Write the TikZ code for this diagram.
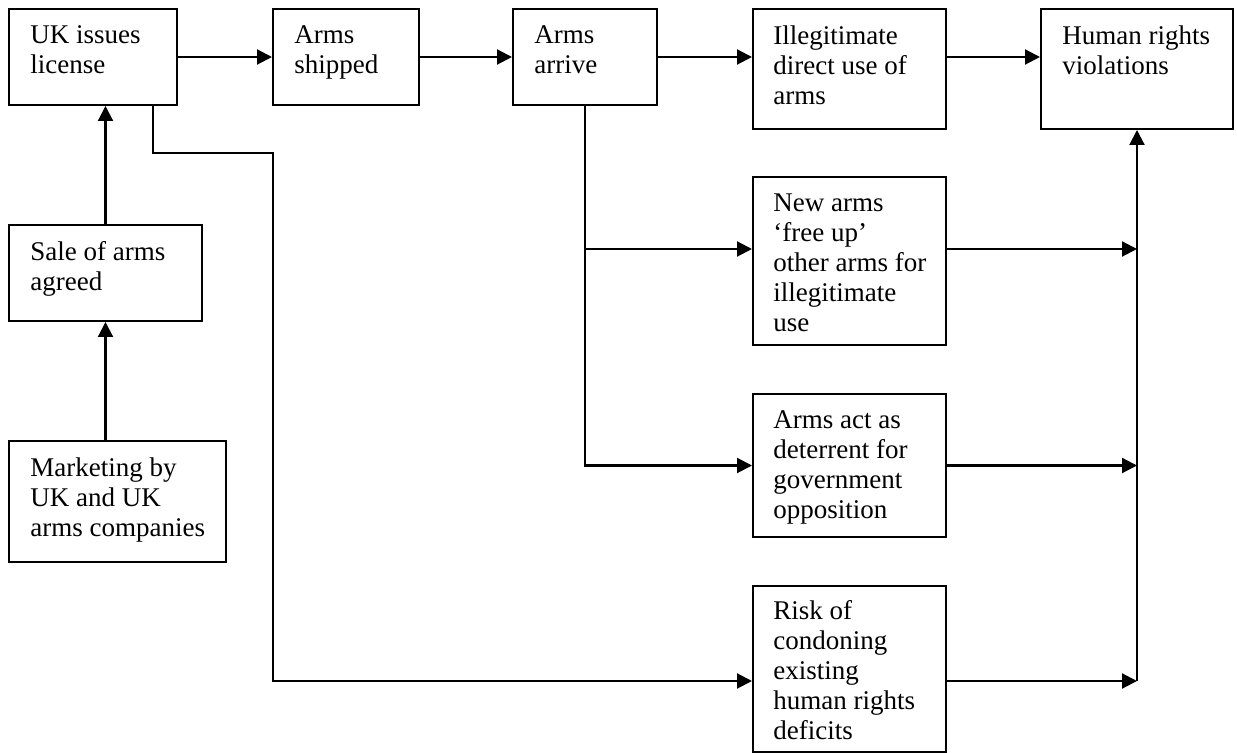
\documentclass[tikz,border=0pt]{standalone}
\usepackage{fontspec}
\setmainfont{Liberation Serif}
\usetikzlibrary{arrows.meta}
\begin{document}
\begin{tikzpicture}[x=0.5pt,y=-0.5pt,
  box/.style={draw, line width=1pt, inner sep=0pt},
  txt/.style={anchor=north west, inner sep=0pt, align=left, font=\fontsize{13.5pt}{15pt}\selectfont},
  arr/.style={line width=1.05pt, -{Triangle[length=7.5pt,width=7.5pt]}},
  ln/.style={line width=1.05pt}]
\useasboundingbox (0,0) rectangle (1237,753);
\fill[white] (0,0) rectangle (1237,753);
% boxes
\node[box, minimum width=84pt, minimum height=48pt] (uk) at (93,57) {};
\node[box, minimum width=73pt, minimum height=48pt] (shipped) at (346,57) {};
\node[box, minimum width=72pt, minimum height=48pt] (arrive) at (585,57) {};
\node[box, minimum width=96.5pt, minimum height=60pt] (illeg) at (849.5,69) {};
\node[box, minimum width=96pt, minimum height=60pt] (human) at (1137,69) {};
\node[box, minimum width=96.5pt, minimum height=48pt] (sale) at (105.5,273) {};
\node[box, minimum width=108.5pt, minimum height=60.5pt] (mkt) at (117.5,501.5) {};
\node[box, minimum width=96.5pt, minimum height=84pt] (newarms) at (849.5,261) {};
\node[box, minimum width=96.5pt, minimum height=71.5pt] (act) at (849.5,465.5) {};
\node[box, minimum width=96.5pt, minimum height=83pt] (risk) at (849.5,669) {};
% texts
\node[txt] (tuk) at ([xshift=11pt,yshift=-8.5pt]uk.north west) {UK issues\\license};
\node[txt] (tshipped) at ([xshift=11pt,yshift=-8.5pt]shipped.north west) {Arms\\shipped};
\node[txt] (tarrive) at ([xshift=11pt,yshift=-8.5pt]arrive.north west) {Arms\\arrive};
\node[txt] (tilleg) at ([xshift=10.5pt,yshift=-8.5pt]illeg.north west) {Illegitimate\\direct use of\\arms};
\node[txt] (thuman) at ([xshift=11pt,yshift=-8.5pt]human.north west) {Human rights\\violations};
\node[txt] (tsale) at ([xshift=11pt,yshift=-8.5pt]sale.north west) {Sale of arms\\agreed};
\node[txt] (tmkt) at ([xshift=11pt,yshift=-8.5pt]mkt.north west) {Marketing by\\UK and UK\\arms companies};
\node[txt] (tnewarms) at ([xshift=10.5pt,yshift=-8.5pt]newarms.north west) {New arms\\‘free up’\\other arms for\\illegitimate\\use};
\node[txt] (tact) at ([xshift=10.5pt,yshift=-8.5pt]act.north west) {Arms act as\\deterrent for\\government\\opposition};
\node[txt] (trisk) at ([xshift=10.5pt,yshift=-7.5pt]risk.north west) {Risk of\\condoning\\existing\\human rights\\deficits};
% helper coordinates
\coordinate (j1) at (153,153);
\coordinate (j2) at (273,153);
\coordinate (yn) at (0,249);
\coordinate (yr) at (0,681);
% connectors
\draw[arr] (uk.east) -- (shipped.west);
\draw[arr] (shipped.east) -- (arrive.west);
\draw[arr] (arrive.east) -- (arrive.east -| illeg.west);
\draw[arr] (illeg.east |- uk.east) -- (human.west |- uk.east);
\draw[arr] (sale.north) -- (sale.north |- uk.south);
\draw[arr] (mkt.north -| sale.north) -- (sale.south);
\draw[arr] (j1 |- uk.south) -- (j1) -- (j2) |- (risk.west |- yr);
\draw[arr] (arrive.south) |- (act.west);
\draw[arr] (arrive.south |- yn) -- (newarms.west |- yn);
\draw[arr] (newarms.east |- yn) -- (human.south |- yn);
\draw[arr] (act.east) -- (human.south |- act.east);
\draw[arr] (risk.east |- yr) -- (human.south |- yr);
\draw[arr] (human.south |- yr) -- (human.south);
\end{tikzpicture}
\end{document}
